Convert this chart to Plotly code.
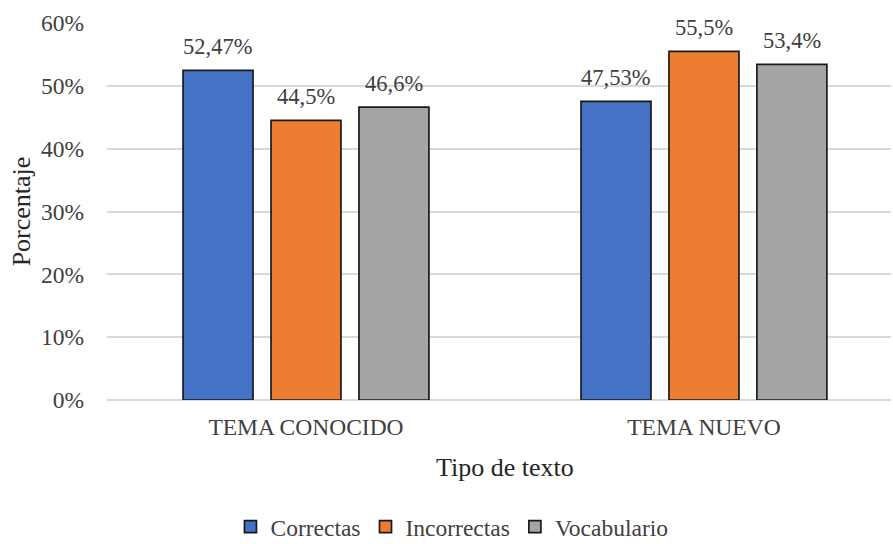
import plotly.graph_objects as go

categories = ["TEMA CONOCIDO", "TEMA NUEVO"]
series_names = ["Correctas", "Incorrectas", "Vocabulario"]
correctas = [52.47, 47.53]
incorrectas = [44.5, 55.5]
vocabulario = [46.6, 53.4]
labels_correctas = ["52,47%", "47,53%"]
labels_incorrectas = ["44,5%", "55,5%"]
labels_vocabulario = ["46,6%", "53,4%"]
y_ticks = [0, 10, 20, 30, 40, 50, 60]
y_tick_labels = ["0%", "10%", "20%", "30%", "40%", "50%", "60%"]

colors = ["#4472C4", "#ED7D31", "#A5A5A5"]
FONT = "Liberation Serif, Times New Roman, serif"
TXT = "#404040"
DARK = "#262626"

fig = go.Figure()
series = list(zip(series_names, [correctas, incorrectas, vocabulario],
                  [labels_correctas, labels_incorrectas, labels_vocabulario], colors))
x_shifts = [-88, 0, 88]
for (name, vals, labs, col), xs in zip(series, x_shifts):
    fig.add_trace(go.Bar(
        x=categories, y=vals, name=name,
        marker=dict(color=col, line=dict(color="#1a1a1a", width=1.7)),
    ))
    for cat, v, lab in zip(categories, vals, labs):
        fig.add_annotation(x=cat, y=v, text=lab, showarrow=False,
                           xshift=xs, yshift=24, yanchor="middle",
                           font=dict(family=FONT, size=22.5, color=TXT))

fig.update_layout(
    width=893, height=544,
    margin=dict(l=107, r=2, t=23, b=144),
    paper_bgcolor="white", plot_bgcolor="white",
    barmode="group", bargap=0.337, bargroupgap=0.2045,
    font=dict(family=FONT, size=22, color=TXT),
    showlegend=True,
    legend=dict(orientation="h", x=0.44, xanchor="center",
                yref="container", y=0.072, yanchor="top",
                font=dict(family=FONT, size=23.5, color=TXT), itemwidth=30,
                traceorder="normal"),
    xaxis=dict(range=[-0.5, 1.47], showline=False, ticks="",
               tickfont=dict(family=FONT, size=23.5, color=TXT), ticklabelstandoff=10),
    yaxis=dict(range=[0, 60], tickvals=y_ticks, ticktext=y_tick_labels,
               showgrid=True, gridcolor="#d9d9d9", gridwidth=1.5,
               zeroline=True, zerolinecolor="#d9d9d9", zerolinewidth=1.5,
               tickfont=dict(family=FONT, size=23.5, color=TXT), ticklabelstandoff=22,
               title=dict(text="Porcentaje", font=dict(family=FONT, size=26, color=DARK), standoff=2)),
)
fig.add_annotation(text="Tipo de texto", x=0.5, xref="x", y=-0.178, yref="paper",
                   showarrow=False, yanchor="middle",
                   font=dict(family=FONT, size=26, color=DARK))

fig.write_html("out.html")
